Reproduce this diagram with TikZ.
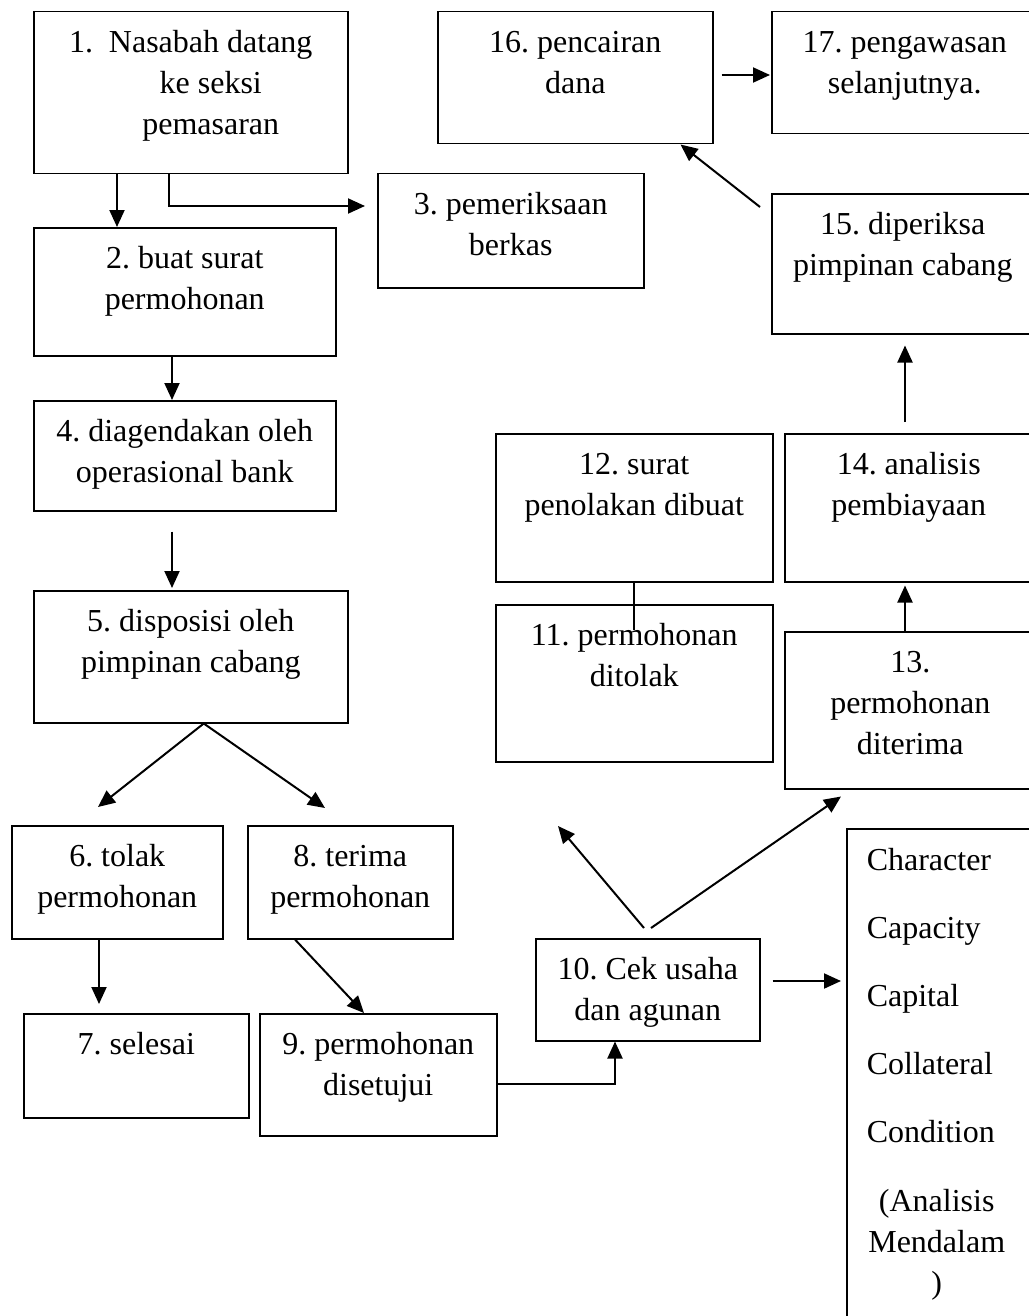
\documentclass[tikz,border=0pt]{standalone}
\usepackage{fontspec}
\setmainfont{Liberation Serif}
\usepackage{tikz}
\usetikzlibrary{arrows.meta}
\frenchspacing

% text block inside a box: first baseline 41pt below the top edge
\newcommand{\boxtext}[3]{\parbox[c][#2][t]{#1}{\centering\rule{0pt}{41pt}#3}}

\begin{document}
\begin{tikzpicture}[
  x=1pt, y=-1pt,
  font=\fontsize{32}{41}\selectfont,
  box/.style={rectangle, draw, line width=1.5pt, inner sep=0pt, anchor=north west},
  arrow/.style={-{Triangle[length=17pt, width=15pt]}, line width=2pt},
  link/.style={line width=2pt},
]
  \useasboundingbox (0,0) rectangle (1028,1316);

  % left column
  \node[box] (b1) at (33,11)   {\boxtext{314pt}{162pt}{1.\ \ Nasabah datang\\\hspace*{40pt}ke seksi\\\hspace*{40pt}pemasaran}};
  \node[box] (b2) at (33,227)  {\boxtext{302pt}{128pt}{2. buat surat\\permohonan}};
  \node[box] (b3) at (377,173) {\boxtext{266pt}{114pt}{3. pemeriksaan\\berkas}};
  \node[box] (b4) at (33,400)  {\boxtext{302pt}{110pt}{4. diagendakan oleh\\operasional bank}};
  \node[box] (b5) at (33,590)  {\boxtext{314pt}{132pt}{5. disposisi oleh\\pimpinan cabang}};
  \node[box] (b6) at (11,825)  {\boxtext{211pt}{113pt}{6. tolak\\permohonan}};
  \node[box] (b7) at (23,1013) {\boxtext{225pt}{104pt}{7. selesai}};
  \node[box] (b8) at (247,825) {\boxtext{205pt}{113pt}{8. terima\\permohonan}};
  \node[box] (b9) at (259,1013) {\boxtext{237pt}{122pt}{9. permohonan\\disetujui}};
  \node[box] (b10) at (535,938) {\boxtext{224pt}{102pt}{10. Cek usaha\\dan agunan}};

  % right column
  \node[box] (b11) at (495,604) {\boxtext{277pt}{157pt}{11. permohonan\\ditolak}};
  \node[box] (b12) at (495,433) {\boxtext{277pt}{148pt}{12. surat\\penolakan dibuat}};
  \node[box] (b13) at (784,631) {\boxtext{251pt}{157pt}{13.\\permohonan\\diterima}};
  \node[box] (b14) at (784,433) {\boxtext{248pt}{148pt}{14. analisis\\pembiayaan}};
  \node[box] (b15) at (771,193) {\boxtext{262pt}{140pt}{15. diperiksa\\pimpinan cabang}};
  \node[box] (b16) at (437,11)  {\boxtext{275pt}{132pt}{16. pencairan\\dana}};
  \node[box] (b17) at (771,11)  {\boxtext{266pt}{122pt}{17. pengawasan\\selanjutnya.}};

  % 5C list
  \node[box] (bc) at (846,828) {\parbox[c][502pt][t]{188pt}{\raggedright
      \rule{0pt}{42pt}\hspace*{20pt}Character\\[27pt]
      \hspace*{20pt}Capacity\\[27pt]
      \hspace*{20pt}Capital\\[27pt]
      \hspace*{20pt}Collateral\\[27pt]
      \hspace*{20pt}Condition\par\vspace{28pt}
      {\centering\hspace*{-8pt}(Analisis\\\hspace*{-8pt}Mendalam\\\hspace*{-8pt})\par}}};

  \coordinate (rej) at (558,826);

  % Arrows
  \draw[arrow] ([xshift=84pt]b1.south west) -- ([xshift=84pt]b2.north west);
  \draw[arrow] ([xshift=136pt]b1.south west) |- ([xshift=-12pt,yshift=-33pt]b3.north west);
  \draw[arrow] ([xshift=139pt]b2.south west) -- ([xshift=139pt]b4.north west);
  \draw[arrow] ([xshift=139pt,yshift=-20pt]b4.south west) -- ([xshift=139pt,yshift=2pt]b5.north west);
  \draw[arrow] ([xshift=13pt]b5.south) -- ([xshift=87pt,yshift=18pt]b6.north west);
  \draw[arrow] ([xshift=13pt]b5.south) -- ([xshift=78pt,yshift=17pt]b8.north west);
  \draw[arrow] ([xshift=88pt]b6.south west) -- ([xshift=76pt,yshift=9pt]b7.north west);
  \draw[arrow] ([xshift=48pt]b8.south west) -- ([xshift=105pt]b9.north west);
  \draw[arrow] ([yshift=-71pt]b9.north east) -| ([xshift=80pt]b10.south west);
  \draw[arrow] ([xshift=116pt,yshift=10pt]b10.north west) -- ([xshift=57pt,yshift=-7pt]b13.south west);
  \draw[arrow] ([xshift=109pt,yshift=10pt]b10.north west) -- (rej);
  \draw[arrow] ([xshift=12pt,yshift=-43pt]b10.north east) -- ([xshift=-5pt,yshift=-153pt]bc.north west);
  \draw[link]  (b12.south) -- ([yshift=-26pt]b11.north);
  \draw[arrow] ([xshift=121pt]b13.north west) -- ([xshift=121pt,yshift=-3pt]b14.south west);
  \draw[arrow] ([xshift=121pt,yshift=11pt]b14.north west) -- ([xshift=134pt,yshift=-11pt]b15.south west);
  \draw[arrow] ([xshift=-11pt,yshift=-14pt]b15.north west) -- ([xshift=-33pt]b16.south east);
  \draw[arrow] ([xshift=8pt,yshift=-64pt]b16.north east) -- ([xshift=-1pt,yshift=-64pt]b17.north west);
\end{tikzpicture}
\end{document}
